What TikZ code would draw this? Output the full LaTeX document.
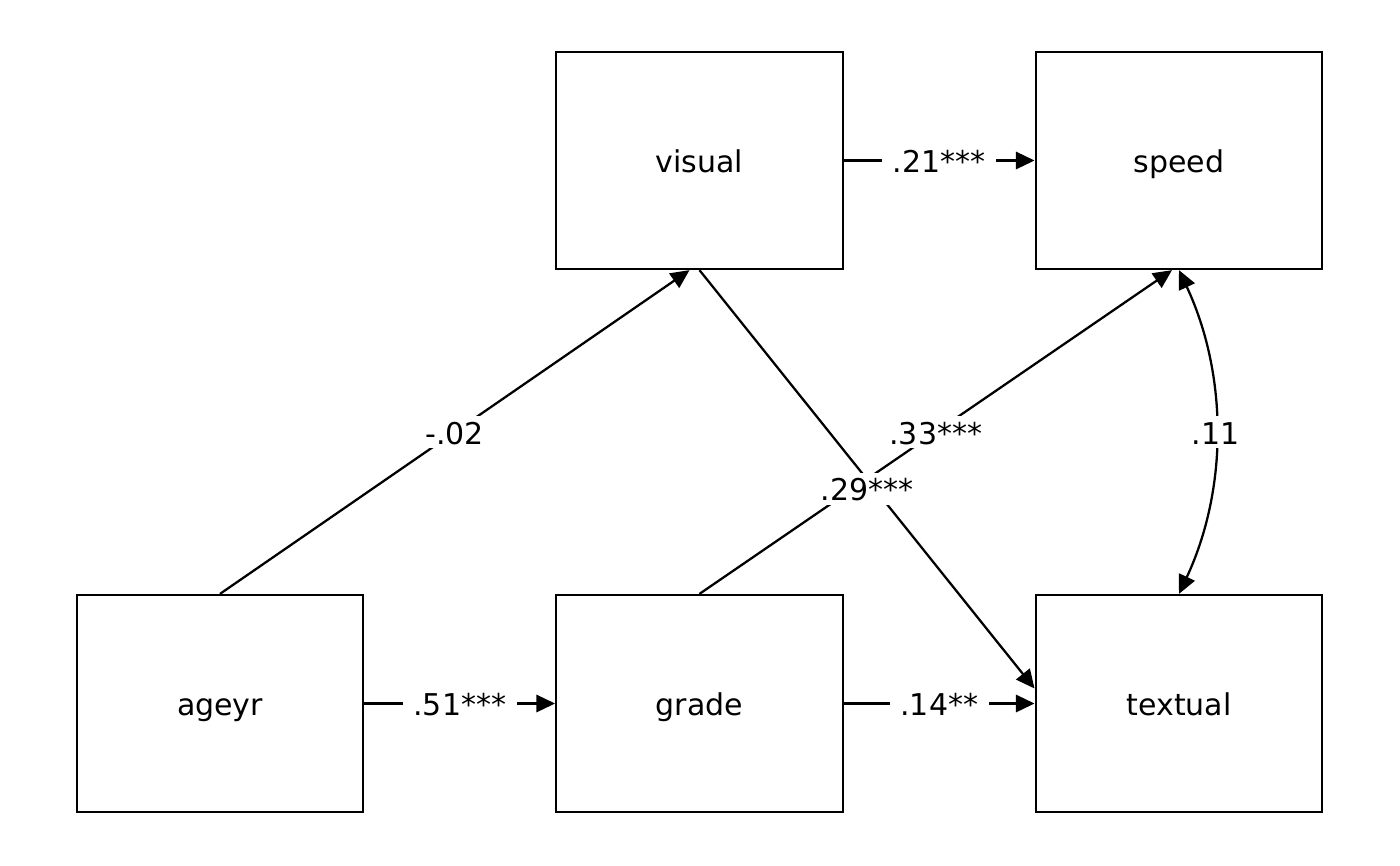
\documentclass[tikz,border=0pt]{standalone}
\usepackage{fontspec}
\setmainfont{DejaVu Sans}
\usetikzlibrary{arrows.meta}
\begin{document}
\begin{tikzpicture}[x=0.75pt,y=-0.75pt,
  box/.style={draw=black,line width=1.7pt,minimum width=215pt,minimum height=162.75pt,
    font=\fontsize{22.5}{27}\selectfont,text height=18pt,text depth=0pt,inner sep=0pt},
  lab/.style={fill=white,font=\fontsize{22.5}{27}\selectfont,text height=18pt,text depth=0pt,
    inner xsep=8pt,inner ysep=3pt},
  arr/.style={line width=1.7pt,-{Triangle[length=14pt,width=13pt]}},
  arrb/.style={line width=1.7pt,{Triangle[length=14pt,width=13pt]}-{Triangle[length=14pt,width=13pt]}}]
\useasboundingbox (0,0) rectangle (1400,865);
\node[box] (visual) at (699.5,160.5) {visual};
\node[box] (speed) at (1179,160.5) {speed};
\node[box] (ageyr) at (220,703.5) {ageyr};
\node[box] (grade) at (699.5,703.5) {grade};
\node[box] (textual) at (1179,703.5) {textual};
\coordinate (vtip) at ([xshift=-7.5pt]visual.south);
\coordinate (stip) at ([xshift=-5.25pt]speed.south);
\coordinate (ttip) at ([yshift=11.25pt]textual.west);
\draw[arr] (visual.east) -- node[lab]{.21***} (speed.west);
\draw[arr] (ageyr.east) -- node[lab]{.51***} (grade.west);
\draw[arr] (grade.east) -- node[lab]{.14**} (textual.west);
\draw[arr] (ageyr.north) -- node[lab]{-.02} (vtip);
\draw[arr] (grade.north) -- node[lab]{.33***} (stip);
\draw[arr] (visual.south) -- node[lab,pos=0.5,yshift=-7pt]{.29***} (ttip);
\draw[arrb] (speed.south) .. controls +(49,105) and +(49,-105) .. node[lab]{.11} (textual.north);
\end{tikzpicture}
\end{document}
